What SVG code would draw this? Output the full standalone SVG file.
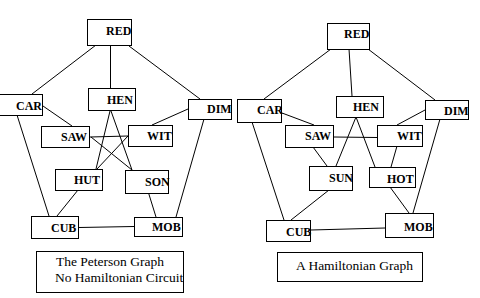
<svg xmlns="http://www.w3.org/2000/svg" width="480" height="298" viewBox="0 0 480 298">
<style>
rect{fill:#fff;stroke:#000;stroke-width:1}
.e line{stroke:#000;stroke-width:1}
.n text{font-weight:bold;font-size:12px;fill:#000}
.c text{font-size:13.5px;fill:#000}
</style>
<rect x="0" y="0" width="480" height="298" style="stroke:none"/>
<g id="edges-left" class="e">
<line x1="96" y1="45" x2="32" y2="94"/>
<line x1="110.5" y1="45" x2="110.5" y2="88"/>
<line x1="129" y1="46" x2="200" y2="99"/>
<line x1="43" y1="106" x2="72" y2="126"/>
<line x1="188" y1="109" x2="152" y2="125"/>
<line x1="17" y1="115" x2="49" y2="216"/>
<line x1="204" y1="119" x2="176" y2="217"/>
<line x1="79" y1="227.5" x2="134" y2="226.5"/>
<line x1="78" y1="190" x2="57" y2="216"/>
<line x1="147" y1="188" x2="156" y2="217"/>
<line x1="110" y1="111" x2="96" y2="169"/>
<line x1="111" y1="111" x2="132" y2="170"/>
<line x1="90" y1="137" x2="128" y2="136"/>
<line x1="91" y1="137" x2="132" y2="170"/>
<line x1="128" y1="136" x2="97" y2="169"/>
</g>
<g id="edges-right" class="e">
<line x1="331" y1="49" x2="264" y2="99"/>
<line x1="349" y1="49" x2="352" y2="96"/>
<line x1="368" y1="49" x2="435" y2="100"/>
<line x1="282" y1="113" x2="314" y2="125"/>
<line x1="425" y1="110" x2="397" y2="125"/>
<line x1="334" y1="137" x2="377" y2="137.5"/>
<line x1="252" y1="122" x2="284" y2="220"/>
<line x1="440" y1="119" x2="413" y2="213"/>
<line x1="356" y1="117" x2="336" y2="166"/>
<line x1="356" y1="117" x2="375" y2="167"/>
<line x1="313" y1="147" x2="327" y2="166"/>
<line x1="397" y1="146" x2="391" y2="167"/>
<line x1="329" y1="190" x2="291" y2="220"/>
<line x1="390" y1="187" x2="409" y2="213"/>
<line x1="311" y1="230" x2="385" y2="228"/>
</g>
<g font-family="'Liberation Serif', 'Times New Roman', 'DejaVu Serif', serif">
<g id="L-RED" class="n"><rect x="87.5" y="19.5" width="44" height="26"/><text x="106" y="35">RED</text></g>
<g id="L-CAR" class="n"><rect x="-0.5" y="94.5" width="43" height="21"/><text x="16" y="110">CAR</text></g>
<g id="L-HEN" class="n"><rect x="88.5" y="88.5" width="47" height="22"/><text x="107" y="104">HEN</text></g>
<g id="L-DIM" class="n"><rect x="188.5" y="99.5" width="43" height="20"/><text x="207" y="113">DIM</text></g>
<g id="L-SAW" class="n"><rect x="41.5" y="126.5" width="48" height="21"/><text x="61" y="141">SAW</text></g>
<g id="L-WIT" class="n"><rect x="128.5" y="125.5" width="44" height="21"/><text x="147" y="140">WIT</text></g>
<g id="L-HUT" class="n"><rect x="55.5" y="169.5" width="47" height="21"/><text x="74" y="184">HUT</text></g>
<g id="L-SON" class="n"><rect x="125.5" y="170.5" width="43" height="23"/><text x="145" y="186">SON</text></g>
<g id="L-CUB" class="n"><rect x="31.5" y="216.5" width="47" height="22"/><text x="51" y="232">CUB</text></g>
<g id="L-MOB" class="n"><rect x="134.5" y="217.5" width="48" height="19"/><text x="152" y="231">MOB</text></g>
<g id="L-caption" class="c"><rect x="36.5" y="251.5" width="147" height="41"/><text x="56" y="266">The Peterson Graph</text><text x="55" y="282">No Hamiltonian Circuit</text></g>
<g id="R-RED" class="n"><rect x="327.5" y="23.5" width="42" height="26"/><text x="344" y="38">RED</text></g>
<g id="R-CAR" class="n"><rect x="237.5" y="99.5" width="44" height="23"/><text x="257" y="114">CAR</text></g>
<g id="R-HEN" class="n"><rect x="336.5" y="96.5" width="47" height="21"/><text x="353" y="111">HEN</text></g>
<g id="R-DIM" class="n"><rect x="425.5" y="100.5" width="43" height="19"/><text x="444" y="115">DIM</text></g>
<g id="R-SAW" class="n"><rect x="285.5" y="125.5" width="48" height="22"/><text x="305" y="140">SAW</text></g>
<g id="R-WIT" class="n"><rect x="377.5" y="125.5" width="45" height="21"/><text x="397" y="140">WIT</text></g>
<g id="R-SUN" class="n"><rect x="309.5" y="166.5" width="43" height="24"/><text x="329" y="182">SUN</text></g>
<g id="R-HOT" class="n"><rect x="369.5" y="167.5" width="46" height="20"/><text x="387" y="183">HOT</text></g>
<g id="R-CUB" class="n"><rect x="266.5" y="220.5" width="44" height="21"/><text x="286" y="236">CUB</text></g>
<g id="R-MOB" class="n"><rect x="385.5" y="213.5" width="48" height="24"/><text x="404" y="231">MOB</text></g>
<g id="R-caption" class="c"><rect x="277.5" y="252.5" width="145" height="29"/><text x="296" y="270">A Hamiltonian Graph</text></g>
</g>
</svg>
